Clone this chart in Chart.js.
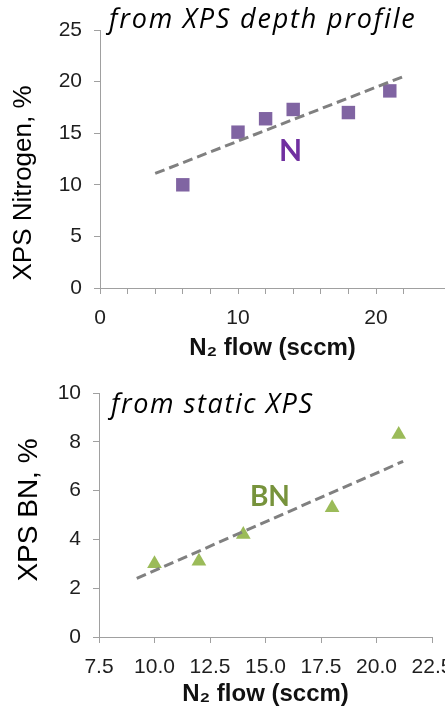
<!DOCTYPE html>
<html lang="en">
<head>
<meta charset="UTF-8">
<title>XPS nitrogen vs N2 flow</title>
<script src="https://cdn.jsdelivr.net/npm/chart.js"></script>
<style>
  html, body { margin: 0; padding: 0; background: #fff; overflow: hidden; }
  .box { position: absolute; left: 0; width: 445px; }
  #boxTop { top: 0; height: 360px; }
  #boxBot { top: 360px; height: 350px; }
</style>
</head>
<body>
<div class="box" id="boxTop"><canvas id="nitrogenChart"></canvas></div>
<div class="box" id="boxBot"><canvas id="bnChart"></canvas></div>
<script>
// top panel: XPS depth profile
const flowN = [6, 10, 12, 14, 18, 21];
const nitrogen = [10.0, 15.1, 16.4, 17.3, 17.0, 19.1];
const trendNx = [4, 22];
const trendNy = [11.1, 20.5];
const xLabelsTop = [0, 10, 20];
const yTicksTop = [0, 5, 10, 15, 20, 25];

// bottom panel: static XPS
const flowBN = [10, 12, 14, 18, 21];
const boronNitride = [3.0, 3.1, 4.2, 5.3, 8.3];
const trendBNx = [9.2, 21.2];
const trendBNy = [2.4, 7.2];
const xTicksBot = [7.5, 10, 12.5, 15, 17.5, 20, 22.5];
const yTicksBot = [0, 2, 4, 6, 8, 10];

const axisGray = '#a0a0a0';
const tickFont = { family: 'Liberation Sans, Arial, sans-serif', size: 21 };
const tickColor = '#1e1e1e';

const pts = (xs, ys) => xs.map((x, i) => ({ x: x, y: ys[i] }));

// captions, series tag and y title drawn on the canvas
const panelText = {
  id: 'panelText',
  afterDraw(chart, args, o) {
    const { ctx, chartArea, scales } = chart;
    ctx.save();
    ctx.fillStyle = '#000';
    ctx.font = o.captionFont;
    ctx.letterSpacing = o.captionSpacing;
    ctx.textAlign = 'left';
    ctx.textBaseline = 'alphabetic';
    ctx.fillText(o.caption, chartArea.left + o.captionDx, chartArea.top + o.captionDy);
    ctx.letterSpacing = '0px';

    ctx.fillStyle = o.tagColor;
    ctx.font = o.tagFont;
    ctx.textAlign = 'center';
    ctx.textBaseline = 'middle';
    ctx.fillText(o.tag, scales.x.getPixelForValue(o.tagAt[0]), scales.y.getPixelForValue(o.tagAt[1]));

    ctx.fillStyle = '#000';
    ctx.font = o.yTitleFont;
    ctx.translate(o.yTitleX, (chartArea.top + chartArea.bottom) / 2 + o.yTitleDy);
    ctx.rotate(-Math.PI / 2);
    ctx.fillText(o.yTitle, 0, 0);
    ctx.restore();
  }
};

function xScale(min, max, step, height, labelFn, titlePad) {
  return {
    type: 'linear', min: min, max: max,
    afterFit(s) { s.height = height; s.paddingLeft = 0; s.paddingRight = 0; },
    border: { color: axisGray, width: 1 },
    grid: { drawOnChartArea: false, drawTicks: true, tickLength: 6, color: axisGray },
    ticks: { stepSize: step, autoSkip: false, maxRotation: 0, font: tickFont, color: tickColor, padding: 12, callback: labelFn },
    title: {
      display: true, text: 'N\u2082 flow (sccm)', color: '#111',
      font: { family: 'Liberation Sans, Arial, sans-serif', size: 24, weight: 'bold', lineHeight: 1 },
      padding: { top: 0, bottom: titlePad }
    }
  };
}

function yScale(max, step, width, labelFn) {
  return {
    min: 0, max: max,
    afterFit(s) { s.width = width; s.paddingTop = 0; s.paddingBottom = 0; },
    border: { color: axisGray, width: 1 },
    grid: { drawOnChartArea: false, drawTicks: true, tickLength: 6, color: axisGray },
    ticks: { stepSize: step, font: tickFont, color: tickColor, padding: 12, callback: labelFn }
  };
}

new Chart(document.getElementById('nitrogenChart'), {
  type: 'scatter',
  data: {
    datasets: [
      { label: 'trend', data: pts(trendNx, trendNy), showLine: true, pointRadius: 0,
        borderColor: '#808080', borderWidth: 3, borderDash: [10, 5] },
      { label: 'N', data: pts(flowN, nitrogen), pointStyle: 'rect', pointRadius: 9.5,
        backgroundColor: '#8064A2', borderWidth: 0 }
    ]
  },
  options: {
    responsive: true, maintainAspectRatio: false, animation: false,
    layout: { autoPadding: false, padding: { top: 30, right: 0, left: 0, bottom: 0 } },
    scales: {
      x: xScale(0, 25, 2, 72, v => xLabelsTop.includes(v) ? String(v) : '', 0),
      y: yScale(25, 5, 100, v => yTicksTop.includes(v) ? String(v) : '')
    },
    plugins: {
      legend: { display: false }, tooltip: { enabled: false },
      panelText: {
        caption: 'from XPS depth profile', captionFont: 'italic 27px "Open Sans"', captionSpacing: '1.8px',
        captionDx: 9, captionDy: -2,
        tag: 'N', tagFont: 'bold 30px Lato', tagColor: '#7030A0', tagAt: [13.8, 13.25],
        yTitle: 'XPS Nitrogen, %', yTitleFont: '26px "Liberation Sans"', yTitleX: 24, yTitleDy: 24
      }
    }
  },
  plugins: [panelText]
});

new Chart(document.getElementById('bnChart'), {
  type: 'scatter',
  data: {
    datasets: [
      { label: 'trend', data: pts(trendBNx, trendBNy), showLine: true, pointRadius: 0,
        borderColor: '#808080', borderWidth: 3, borderDash: [10, 5] },
      { label: 'BN', data: pts(flowBN, boronNitride), pointStyle: 'triangle', pointRadius: 8.5,
        backgroundColor: '#9BBB59', borderWidth: 0 }
    ]
  },
  options: {
    responsive: true, maintainAspectRatio: false, animation: false,
    layout: { autoPadding: false, padding: { top: 33, right: 13, left: 0, bottom: 0 } },
    scales: {
      x: xScale(7.5, 22.5, 2.5, 73, v => xTicksBot.includes(v) ? v.toFixed(1) : '', 4),
      y: yScale(10, 2, 99, v => yTicksBot.includes(v) ? String(v) : '')
    },
    plugins: {
      legend: { display: false }, tooltip: { enabled: false },
      panelText: {
        caption: 'from static XPS', captionFont: 'italic 27px "Open Sans"', captionSpacing: '1.6px',
        captionDx: 12, captionDy: 20,
        tag: 'BN', tagFont: 'bold 28px Lato', tagColor: '#77933C', tagAt: [15.2, 5.74],
        yTitle: 'XPS BN, %', yTitleFont: '28px "Liberation Sans"', yTitleX: 29, yTitleDy: -5
      }
    }
  },
  plugins: [panelText]
});
</script>
</body>
</html>
